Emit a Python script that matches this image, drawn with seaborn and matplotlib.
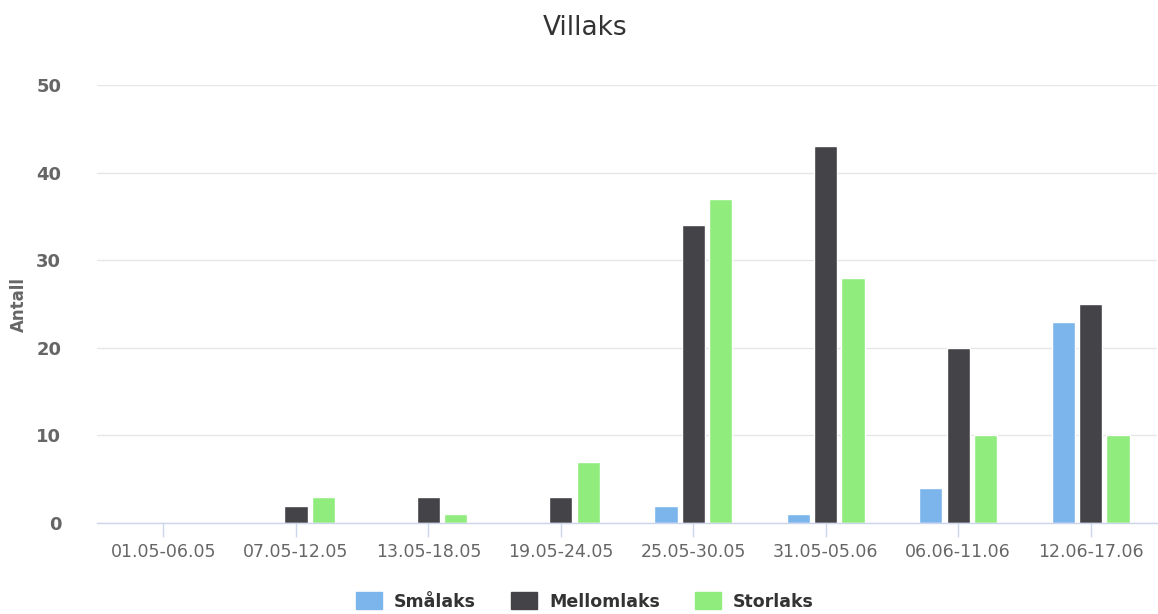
import pandas as pd
import matplotlib.pyplot as plt
import seaborn as sns

sns.set_theme(style="white")
plt.rcParams['font.family'] = ['DejaVu Sans']

# data
perioder = ["01.05-06.05", "07.05-12.05", "13.05-18.05", "19.05-24.05",
            "25.05-30.05", "31.05-05.06", "06.06-11.06", "12.06-17.06"]
smalaks = [0, 0, 0, 0, 2, 1, 4, 23]
mellomlaks = [0, 2, 3, 3, 34, 43, 20, 25]
storlaks = [0, 3, 1, 7, 37, 28, 10, 10]
serier = ["Smålaks", "Mellomlaks", "Storlaks"]
farger = ["#7cb5ec", "#434348", "#90ed7d"]

df = pd.DataFrame({"periode": perioder, "Smålaks": smalaks,
                   "Mellomlaks": mellomlaks, "Storlaks": storlaks})
df = df.melt(id_vars="periode", var_name="type", value_name="antall")

fig = plt.figure(figsize=(11.58, 6.14), dpi=100)
ax = fig.add_axes([0.084, 0.148, 0.915, 0.7136])

sns.barplot(data=df, x="periode", y="antall", hue="type", hue_order=serier,
            palette=farger, saturation=1, width=0.62, gap=0.15,
            edgecolor="white", linewidth=1, ax=ax, legend=False)

ax.set_ylim(0, 50)
ax.set_xlim(-0.5, len(perioder) - 0.5)
ax.set_yticks(range(0, 51, 10))
ax.yaxis.grid(True, color="#e6e6e6", linewidth=1)
ax.set_axisbelow(True)
for s in ["top", "right", "left"]:
    ax.spines[s].set_visible(False)
ax.spines["bottom"].set_color("#ccd6eb")
ax.spines["bottom"].set_linewidth(1)

ax.tick_params(axis="x", colors="#ccd6eb", length=10, width=1, direction="out",
               bottom=True, labelcolor="#666666", labelsize=12.5, pad=4)
ax.tick_params(axis="y", length=0, labelcolor="#666666", labelsize=13, pad=26)
for t in ax.get_yticklabels():
    t.set_fontweight("bold")

ax.set_xlabel("")
ax.set_ylabel("Antall", color="#666666", fontsize=12, fontweight="bold", labelpad=6)
fig.suptitle("Villaks", color="#333333", fontsize=19, x=0.505, y=0.975)

handles = [plt.Rectangle((0, 0), 1, 1, color=c) for c in farger]
fig.legend(handles, serier, loc="lower center", ncol=3, frameon=False,
           bbox_to_anchor=(0.505, -0.02), handlelength=1.5, handleheight=1.1,
           columnspacing=2.0, handletextpad=0.7,
           prop={"weight": "bold", "size": 12.5}, labelcolor="#333333")

fig.savefig("out.png", dpi=100)
